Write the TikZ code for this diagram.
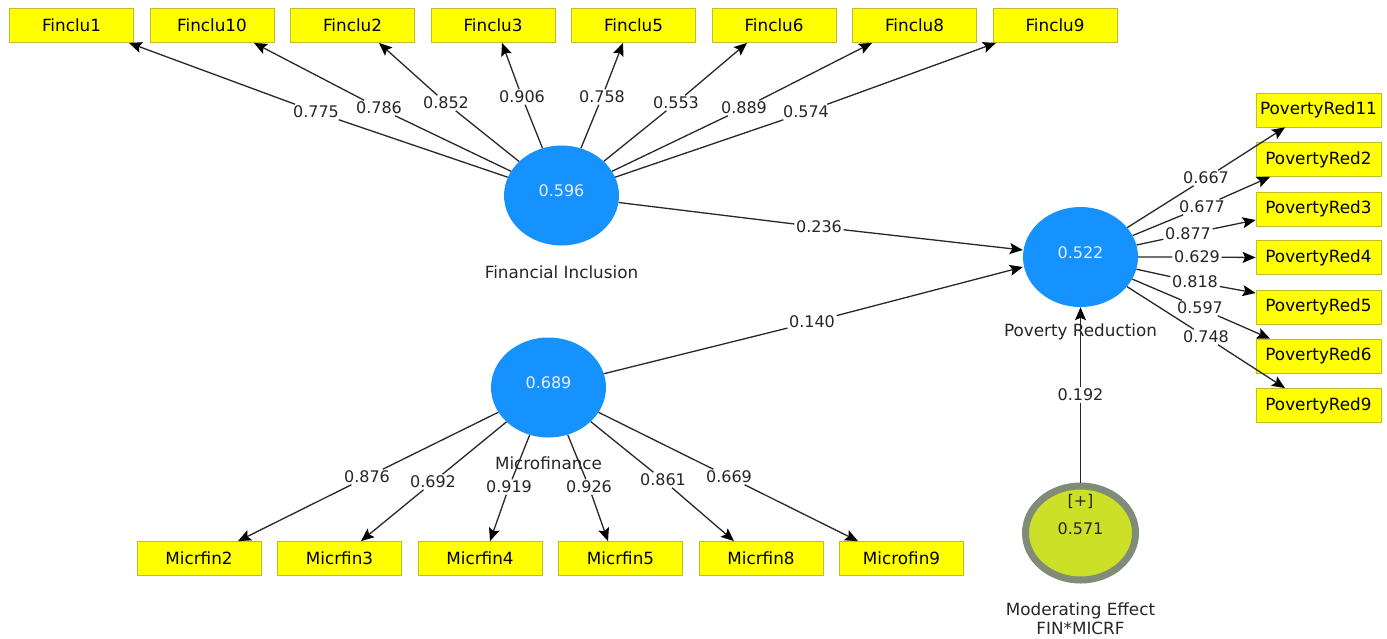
\documentclass[tikz,border=0pt]{standalone}
\usepackage{fontspec}
\setmainfont{DejaVu Sans}
\usetikzlibrary{shapes.geometric,arrows.meta}
\definecolor{lvblue}{RGB}{22,146,255}
\definecolor{boxyellow}{RGB}{255,255,0}
\definecolor{boxedge}{RGB}{190,190,40}
\definecolor{modfill}{RGB}{204,224,40}
\definecolor{modedge}{RGB}{128,140,120}
\definecolor{linegray}{RGB}{40,40,40}
\begin{document}
\begin{tikzpicture}[x=1pt,y=-1pt,
  ind/.style={draw=boxedge, fill=boxyellow, line width=0.8pt, minimum width=124pt, minimum height=34pt, inner sep=0pt, font=\fontsize{16.8}{20}\selectfont, text=black},
  lv/.style={ellipse, fill=lvblue, minimum width=115pt, minimum height=100pt, inner sep=0pt, text=white!92!blue, font=\fontsize{16}{19}\selectfont, text height=12pt, text depth=10pt},
  modv/.style={ellipse, fill=modfill, draw=modedge, line width=7pt, minimum width=110pt, minimum height=94pt, inner sep=0pt, font=\fontsize{16}{19}\selectfont, text=black!85, text height=12pt, text depth=10pt},
  lvname/.style={font=\fontsize{16.8}{19}\selectfont, text=black!85, align=center, inner sep=0pt},
  coef/.style={font=\fontsize{16}{19}\selectfont, inner sep=1.5pt, text=black!85},
  arr/.style={draw=linegray, line width=1.3pt, -{Stealth[length=13pt,width=11pt,inset=2.5pt,color=black]}},
]
\fill[white] (0,0) rectangle (1387,638);
\useasboundingbox (0,0) rectangle (1387,638);

% latent variables
\node[lv] (fi) at (561.5,195.5) {0.596};
\node[lv] (pr) at (1080.5,257) {0.522};
\node[lv] (mf) at (548.5,387.5) {0.689};
\node[modv] (me) at (1080.5,533) {0.571};
\node[font=\fontsize{16}{19}\selectfont, text=black!85, inner sep=0pt] (mep) at (1080.5,501) {[+]};

\node[lvname] (fin) at (561.5,272) {Financial Inclusion};
\node[lvname] (prn) at (1080.5,332) {Poverty Reduction};
\node[lvname] (mfn) at (548.5,463) {Microfinance};
\node[lvname] (men) at (1080.5,619) {Moderating Effect\\FIN*MICRF};

% indicator boxes - top
\node[ind] (f1)  at (71.5,25.5)  {Finclu1};
\node[ind] (f10) at (212,25.5)   {Finclu10};
\node[ind] (f2)  at (352.5,25.5) {Finclu2};
\node[ind] (f3)  at (493,25.5)   {Finclu3};
\node[ind] (f5)  at (633.5,25.5) {Finclu5};
\node[ind] (f6)  at (774,25.5)   {Finclu6};
\node[ind] (f8)  at (914.5,25.5) {Finclu8};
\node[ind] (f9)  at (1055,25.5)  {Finclu9};

% indicator boxes - bottom
\node[ind] (m2) at (199,558.5)   {Micrfin2};
\node[ind] (m3) at (339.5,558.5) {Micrfin3};
\node[ind] (m4) at (480,558.5)   {Micrfin4};
\node[ind] (m5) at (620.5,558.5) {Micrfin5};
\node[ind] (m8) at (761,558.5)   {Micrfin8};
\node[ind] (m9) at (901.5,558.5) {Microfin9};

% indicator boxes - right
\node[ind, minimum width=125pt] (p11) at (1318.5,110)   {PovertyRed11};
\node[ind, minimum width=125pt] (p2)  at (1318.5,159.5) {PovertyRed2};
\node[ind, minimum width=125pt] (p3)  at (1318.5,209)   {PovertyRed3};
\node[ind, minimum width=125pt] (p4)  at (1318.5,257.5) {PovertyRed4};
\node[ind, minimum width=125pt] (p5)  at (1318.5,307)   {PovertyRed5};
\node[ind, minimum width=125pt] (p6)  at (1318.5,356)   {PovertyRed6};
\node[ind, minimum width=125pt] (p9)  at (1318.5,405.5) {PovertyRed9};

% loading labels - top
\node[coef] (l775) at (316,112) {0.775};
\node[coef] (l786) at (379,108) {0.786};
\node[coef] (l852) at (446,103) {0.852};
\node[coef] (l906) at (522,97)  {0.906};
\node[coef] (l758) at (602,97)  {0.758};
\node[coef] (l553) at (676,103) {0.553};
\node[coef] (l889) at (744,108) {0.889};
\node[coef] (l574) at (806,112) {0.574};

% loading labels - bottom
\node[coef] (l876) at (367,477) {0.876};
\node[coef] (l692) at (433,482) {0.692};
\node[coef] (l919) at (509,487) {0.919};
\node[coef] (l926) at (589,487) {0.926};
\node[coef] (l861) at (663,480) {0.861};
\node[coef] (l669) at (729,477) {0.669};

% loading labels - right
\node[coef] (l667) at (1206,178) {0.667};
\node[coef] (l677) at (1202,207) {0.677};
\node[coef] (l877) at (1188,234) {0.877};
\node[coef] (l629) at (1197,257) {0.629};
\node[coef] (l818) at (1195,282) {0.818};
\node[coef] (l597) at (1200,308) {0.597};
\node[coef] (l748) at (1206,337) {0.748};

% path coefficient labels
\node[coef] (l236) at (819,227)    {0.236};
\node[coef] (l140) at (812,322)    {0.140};
\node[coef] (l192) at (1080.5,395) {0.192};

% loadings: Financial Inclusion
\draw[arr] (fi) -- (l775) -- ([xshift=57.5pt]f1.south);
\draw[arr] (fi) -- (l786) -- ([xshift=42pt]f10.south);
\draw[arr] (fi) -- (l852) -- ([xshift=26.5pt]f2.south);
\draw[arr] (fi) -- (l906) -- ([xshift=9pt]f3.south);
\draw[arr] (fi) -- (l758) -- ([xshift=-10.5pt]f5.south);
\draw[arr] (fi) -- (l553) -- ([xshift=-27pt]f6.south);
\draw[arr] (fi) -- (l889) -- ([xshift=-42.5pt]f8.south);
\draw[arr] (fi) -- (l574) -- ([xshift=-59pt]f9.south);

% loadings: Microfinance
\draw[arr] (mf) -- (l876) -- ([xshift=39pt]m2.north);
\draw[arr] (mf) -- (l692) -- ([xshift=21.5pt]m3.north);
\draw[arr] (mf) -- (l919) -- ([xshift=10pt]m4.north);
\draw[arr] (mf) -- (l926) -- ([xshift=-12.5pt]m5.north);
\draw[arr] (mf) -- (l861) -- ([xshift=-27pt]m8.north);
\draw[arr] (mf) -- (l669) -- ([xshift=-43.5pt]m9.north);

% loadings: Poverty Reduction
\draw[arr] (pr) -- (l667) -- ([xshift=-33.5pt]p11.south);
\draw[arr] (pr) -- (l677) -- ([xshift=-48.5pt]p2.south);
\draw[arr] (pr) -- (l877) -- ([yshift=-11pt]p3.west);
\draw[arr] (pr) -- (l629) -- (p4.west);
\draw[arr] (pr) -- (l818) -- ([yshift=14pt]p5.west);
\draw[arr] (pr) -- (l597) -- ([xshift=-48.5pt]p6.north);
\draw[arr] (pr) -- (l748) -- ([xshift=-33.5pt]p9.north);

% structural paths
\draw[arr] (fi) -- (l236) -- ([yshift=7pt]pr.west);
\draw[arr] (mf) -- (l140) -- ([yshift=-10pt]pr.west);
\draw[arr] (me) -- (l192) -- (pr);
\end{tikzpicture}
\end{document}
